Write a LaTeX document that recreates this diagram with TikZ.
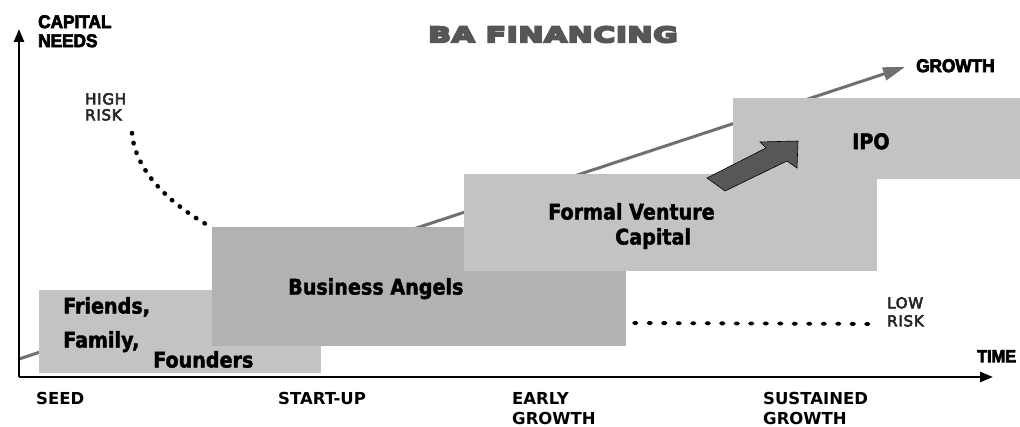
\documentclass[tikz,border=0pt]{standalone}
\usepackage{fontspec}
\usepackage{tikz}
\usetikzlibrary{arrows.meta}

\setmainfont{DejaVu Sans}
\newfontfamily\boxfont[FakeStretch=0.89]{DejaVu Sans}
\newfontfamily\headfont[FakeStretch=1.42,LetterSpace=3]{DejaVu Sans}
\newfontfamily\axisfont[FakeStretch=0.93]{Liberation Sans}
\newfontfamily\riskfont[LetterSpace=5]{DejaVu Sans}

% outline the glyphs as well as filling them, for heavier type
\newcommand\heavy[2]{\special{pdf:literal direct 2 Tr #1 w}#2\special{pdf:literal direct 0 Tr}}

\definecolor{stagegray}{HTML}{C3C3C3}
\definecolor{angelgray}{HTML}{B2B2B2}
\definecolor{linegray}{HTML}{707070}
\definecolor{headgray}{HTML}{565656}
\definecolor{arrowgray}{HTML}{575757}

\tikzset{
	stagebox/.style={fill=stagegray, inner sep=0, anchor=north west},
	angelbox/.style={stagebox, fill=angelgray},
	boxtext/.style={inner sep=0, anchor=north west, align=left,
		font=\boxfont\bfseries\fontsize{21.5}{25}\selectfont},
	stagetext/.style={inner sep=0, anchor=north west, align=left,
		font=\bfseries\fontsize{16.5}{20}\selectfont},
	axistext/.style={inner sep=0, anchor=north west, align=left,
		font=\axisfont\bfseries\fontsize{18.5}{19}\selectfont},
	risktext/.style={inner sep=0, anchor=north west, align=left, text=black!85},
	axisline/.style={line width=2.6pt, -{Triangle[length=13pt,width=10pt]}},
	growthline/.style={line width=3pt, linegray, -{Triangle[length=22pt,width=13pt]}},
	riskdots/.style={line width=4.5pt, line cap=round, dash pattern=on 0.5pt off 9.5pt},
	bigarrow/.style={fill=arrowgray, draw=black, line width=0.6pt, line join=miter}
}

\begin{document}
\begin{tikzpicture}[x=1pt, y=-1pt]
	\useasboundingbox (0,0) rectangle (1020,427);

	\coordinate (origin) at (19,377);
	\coordinate (ytip) at (19,29);
	\coordinate (xtip) at (993,377);
	\coordinate (gstart) at (19,359);
	\coordinate (gtip) at (905,67);
	\coordinate (highstart) at (132,133);
	\coordinate (highend) at (211,227);
	\coordinate (lowstart) at (634,323);
	\coordinate (lowend) at (880,324);

	\draw[growthline] (gstart) -- (gtip);
	\draw[riskdots] (highstart) .. controls (135,170) and (168,203) .. (highend);
	\draw[riskdots, line width=3.8pt, dash pattern=on 2.5pt off 12pt] (lowstart) -- (lowend);

	\node[stagebox, minimum width=282pt, minimum height=83pt] (fff) at (39,290) {};
	\node[angelbox, minimum width=414pt, minimum height=119pt] (ba) at (212,227) {};
	\node[stagebox, minimum width=413pt, minimum height=97pt] (fvc) at (464,174) {};
	\node[stagebox, minimum width=290pt, minimum height=81pt] (ipo) at (733,98) {};

	\filldraw[bigarrow] (707,178) -- (766,148) -- (760,142) -- (798,141)
		-- (797,168) -- (787,161) -- (725,191) -- cycle;

	\node[boxtext] (ffftext) at (63,297) {\heavy{0.4}{Friends,}\\[9pt]\heavy{0.4}{Family,}\\[-5pt]\hspace*{90pt}\heavy{0.4}{Founders}};
	\node[boxtext] (batext) at (288,278) {\heavy{0.4}{Business Angels}};
	\node[boxtext] (fvctext) at (548,203) {\heavy{0.4}{Formal Venture}\\\hspace*{67pt}\heavy{0.4}{Capital}};
	\node[boxtext] (ipotext) at (852,133) {\heavy{0.4}{IPO}};

	\draw[axisline] (origin) -- (ytip);
	\draw[axisline] (origin) -- (xtip);

	\node[axistext] (needs) at (38,15) {\heavy{0.7}{CAPITAL}\\\heavy{0.7}{NEEDS}};
	\node[axistext] (growth) at (916,59) {\heavy{0.7}{GROWTH}};
	\node[axistext, font=\axisfont\bfseries\fontsize{17.5}{18}\selectfont] (time) at (977,350) {\heavy{0.7}{TIME}};
	\node[inner sep=0, text=headgray, font=\headfont\bfseries\fontsize{21}{22}\selectfont] (title) at (553,34.5) {\heavy{2.2}{BA FINANCING}};

	\node[risktext, font=\riskfont\fontsize{15}{16}\selectfont] (highrisk) at (85,93) {\heavy{0.6}{HIGH}\\\heavy{0.6}{RISK}};
	\node[risktext, font=\riskfont\fontsize{15}{18}\selectfont] (lowrisk) at (887,297) {\heavy{0.6}{LOW}\\\heavy{0.6}{RISK}};

	\foreach \x/\stage [count=\i] in {36/SEED, 278/START-UP, 512/{EARLY\\GROWTH}, 763/{SUSTAINED\\GROWTH}}
		\node[stagetext] (stage\i) at (\x,392) {\stage};
\end{tikzpicture}
\end{document}
